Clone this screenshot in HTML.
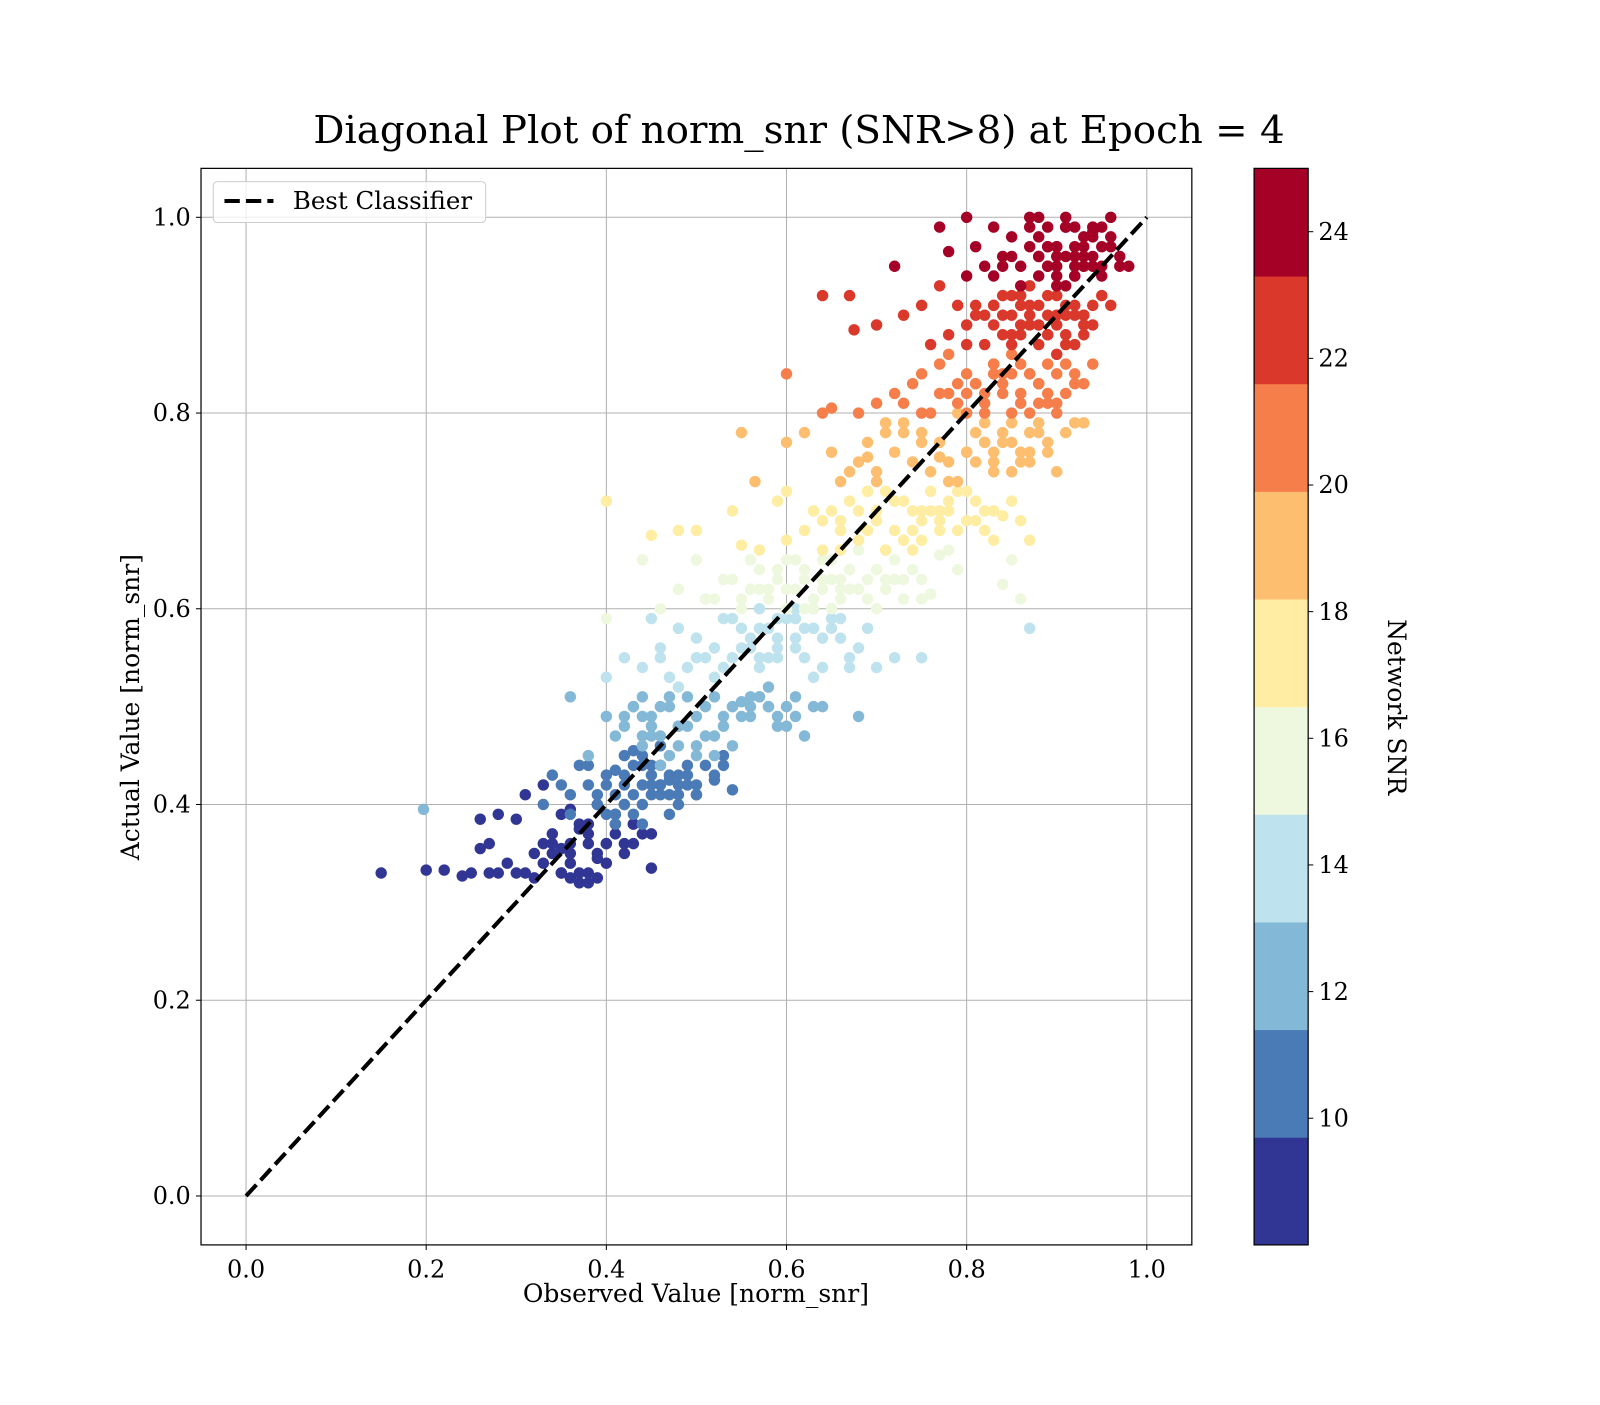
<!DOCTYPE html>
<html><head><meta charset="utf-8"><style>
html,body{margin:0;padding:0;background:#fff}
svg text{font-family:"DejaVu Serif","Liberation Serif",serif;fill:#000}
</style></head><body>
<svg id="chart" width="1600" height="1400" viewBox="0 0 1568 1372" xmlns="http://www.w3.org/2000/svg">
<rect width="1568" height="1372" fill="#fff"/>
<text x="783" y="140" font-size="38" text-anchor="middle">Diagonal Plot of norm_snr (SNR&gt;8) at Epoch = 4</text>
<g id="grid"></g>
<g id="points"></g>
<line id="diag" stroke="#000" stroke-width="4" stroke-dasharray="15,6"/>
<rect x="197" y="165" width="971" height="1055" fill="none" stroke="#000" stroke-width="1.2"/>
<g id="ticks"></g>
<text x="682" y="1276" font-size="24.5" text-anchor="middle">Observed Value [norm_snr]</text>
<text transform="translate(136,693) rotate(-90)" font-size="24.5" text-anchor="middle">Actual Value [norm_snr]</text>
<g>
<rect x="209" y="178" width="267" height="40" rx="4" fill="#fff" fill-opacity="0.8" stroke="#ccc"/>
<line x1="220" y1="197" x2="268" y2="197" stroke="#000" stroke-width="4" stroke-dasharray="15,6"/>
<text x="287" y="205" font-size="24">Best Classifier</text>
</g>
<g id="cbar"></g>
<text transform="translate(1360,693) rotate(90)" font-size="24.5" text-anchor="middle">Network SNR</text>
</svg>
<script>
const xTicks=[0,0.2,0.4,0.6,0.8,1.0];
const yTicks=[0,0.2,0.4,0.6,0.8,1.0];
const cbTicks=[10,12,14,16,18,20,22,24];
const bandColors=["#313695","#4a7bb7","#83b8d7","#bfe3ee","#eef8df","#feeda2","#fdbe70","#f67e4b","#da382a","#a50026"];
const bandSnr=[9,10.5,12,14,15.5,17,19,20.5,22,24];
const bandObs=[
[.15,.20,.22,.24,.25,.26,.27,.28,.29,.30,.31,.32,.33,.34,.35,.36,.37,.38,.39,.40,.41,.42,.43,.44,.45,.26,.30,.33,.35,.37,.39,.41,.36,.34,.38,.32,.45,.43,.28,.31,
 .35,.36,.37,.38,.39,.40,.34,.36,.38,.40,.42,.35,.37,.39,.33,.41,.43,.36,.38,.27],
[.33,.34,.35,.36,.37,.38,.39,.40,.41,.42,.43,.44,.45,.46,.47,.48,.49,.50,.51,.52,.53,.54,.36,.38,.40,.42,.44,.46,.48,.50,.41,.43,.45,.47,.39,.42,.44,.46,.52,.49,
 .40,.41,.42,.43,.44,.45,.46,.47,.48,.49,.50,.41,.43,.45,.47,.44,.46,.42,.48,.53],
[.197,.36,.38,.40,.41,.42,.43,.44,.45,.46,.47,.48,.49,.50,.51,.52,.53,.54,.55,.56,.57,.58,.59,.60,.61,.62,.63,.68,.44,.46,.48,.50,.52,.54,.56,.58,.60,.42,.45,.47,
 .43,.44,.45,.46,.47,.48,.50,.52,.54,.55,.56,.57,.58,.59,.61,.44,.49,.51,.53,.64],
[.40,.42,.44,.45,.46,.47,.48,.49,.50,.51,.52,.53,.54,.55,.56,.57,.58,.59,.60,.61,.62,.63,.64,.65,.66,.67,.68,.69,.70,.72,.75,.87,.55,.57,.59,.61,.63,.65,.67,.53,
 .56,.57,.58,.59,.60,.61,.62,.63,.64,.66,.54,.52,.50,.48,.46,.57,.59,.61,.63,.65],
[.40,.44,.46,.48,.50,.52,.54,.55,.56,.57,.58,.59,.60,.61,.62,.63,.64,.65,.66,.67,.68,.69,.70,.71,.72,.73,.74,.75,.76,.77,.79,.84,.85,.86,.60,.62,.64,.66,.68,.70,.58,.56,.72,.65,.67,
 .60,.62,.64,.66,.68,.70,.59,.61,.63,.65,.67,.69,.71,.57,.55,.53,.51,.73,.75,.78],
[.40,.45,.48,.50,.54,.55,.57,.59,.60,.62,.64,.65,.66,.67,.68,.69,.70,.71,.72,.73,.74,.75,.76,.77,.78,.79,.80,.81,.82,.83,.84,.86,.87,.63,.69,.71,.75,.77,.66,.60,
 .70,.72,.74,.76,.78,.80,.82,.71,.73,.75,.77,.79,.81,.68,.66,.64,.83,.85,.69,.74],
[.55,.565,.60,.62,.65,.66,.67,.68,.69,.70,.71,.72,.73,.74,.75,.76,.77,.78,.79,.80,.81,.82,.83,.84,.85,.86,.87,.88,.89,.90,.92,.93,.70,.78,.82,
 .80,.81,.82,.83,.84,.85,.86,.87,.88,.79,.77,.75,.73,.71,.69,.83,.85,.87,.89,.91],
[.60,.64,.65,.68,.70,.72,.73,.74,.75,.76,.77,.78,.79,.80,.81,.82,.83,.84,.85,.86,.87,.88,.89,.90,.91,.92,.93,.94,.78,.80,.82,.84,.86,.88,.90,
 .80,.81,.82,.83,.84,.85,.86,.87,.88,.89,.90,.91,.79,.77,.75,.83,.85,.87,.89,.92],
[.64,.675,.67,.70,.73,.75,.76,.77,.78,.79,.80,.81,.82,.83,.84,.85,.86,.87,.88,.89,.90,.91,.92,.93,.94,.96,.80,.82,.84,.86,.88,.90,.92,.85,.87,.89,.91,.81,.83,.93,
 .84,.85,.86,.87,.88,.89,.90,.91,.92,.93,.94,.95,.83,.85,.87,.89,.91,.93,.86,.90],
[.72,.77,.78,.80,.81,.82,.83,.84,.85,.86,.87,.88,.89,.90,.91,.92,.93,.94,.95,.96,.97,.98,.80,.83,.85,.87,.88,.89,.90,.91,.92,.93,.94,.86,.88,.90,.92,.94,.96,.84,.89,.91,.93,.87,.95,
 .88,.89,.90,.91,.92,.93,.94,.95,.89,.91,.93,.95,.90,.92,.94,.96,.88,.90,.92,.97]
];
const bandAct=[
[.33,.333,.333,.327,.33,.355,.36,.33,.34,.33,.33,.35,.34,.37,.33,.325,.33,.38,.35,.36,.37,.35,.38,.37,.335,.385,.385,.42,.39,.38,.40,.39,.36,.35,.32,.325,.37,.38,.39,.41,
 .33,.34,.32,.33,.345,.36,.36,.35,.37,.34,.36,.355,.375,.325,.36,.38,.36,.395,.36,.33],
[.40,.43,.42,.41,.44,.42,.40,.43,.41,.42,.39,.44,.43,.42,.41,.43,.42,.41,.44,.43,.45,.415,.39,.44,.39,.40,.45,.41,.40,.42,.435,.455,.41,.425,.41,.40,.42,.44,.425,.43,
 .42,.38,.43,.41,.40,.44,.42,.39,.42,.44,.41,.39,.44,.42,.43,.38,.46,.45,.41,.44],
[.395,.51,.45,.49,.47,.48,.50,.49,.48,.47,.50,.46,.51,.49,.50,.45,.48,.50,.49,.50,.51,.50,.49,.48,.51,.47,.50,.49,.46,.44,.48,.45,.47,.46,.51,.52,.50,.49,.47,.45,
 .50,.51,.49,.50,.51,.48,.46,.51,.50,.505,.49,.51,.50,.48,.49,.47,.48,.47,.49,.50],
[.53,.55,.54,.59,.56,.53,.58,.54,.57,.55,.56,.54,.59,.56,.57,.55,.58,.56,.59,.57,.55,.58,.54,.59,.57,.55,.56,.58,.54,.55,.55,.58,.58,.60,.55,.59,.53,.60,.54,.59,
 .56,.58,.55,.57,.59,.56,.58,.60,.57,.59,.55,.53,.55,.52,.55,.54,.59,.60,.58,.58],
[.59,.65,.60,.62,.65,.61,.63,.60,.62,.64,.61,.63,.60,.62,.64,.61,.63,.65,.61,.64,.62,.63,.60,.62,.65,.61,.64,.63,.615,.655,.64,.625,.65,.61,.65,.60,.65,.62,.66,.64,.62,.65,.63,.60,.62,
 .62,.63,.62,.63,.62,.64,.64,.65,.60,.63,.64,.61,.63,.62,.61,.63,.61,.63,.61,.66],
[.71,.675,.68,.68,.70,.665,.66,.71,.72,.68,.66,.70,.69,.71,.67,.72,.69,.66,.68,.71,.70,.67,.72,.69,.70,.68,.72,.71,.68,.70,.695,.69,.67,.70,.68,.72,.69,.70,.66,.67,
 .70,.71,.68,.70,.71,.69,.70,.66,.67,.70,.68,.72,.69,.70,.68,.69,.67,.71,.72,.66],
[.78,.73,.77,.78,.76,.73,.74,.75,.77,.74,.78,.76,.79,.75,.78,.74,.77,.75,.80,.76,.78,.79,.75,.77,.74,.76,.78,.79,.77,.74,.79,.79,.73,.73,.77,
 .76,.75,.77,.76,.78,.77,.75,.76,.78,.73,.755,.77,.78,.79,.755,.74,.79,.75,.76,.78],
[.84,.80,.805,.80,.81,.82,.81,.83,.84,.80,.85,.82,.81,.84,.83,.80,.85,.82,.86,.81,.84,.83,.85,.80,.82,.83,.83,.85,.86,.80,.82,.84,.85,.81,.81,
 .82,.83,.81,.84,.83,.80,.82,.84,.83,.81,.84,.85,.83,.82,.80,.85,.84,.80,.82,.84],
[.92,.885,.92,.89,.90,.91,.87,.93,.88,.91,.89,.90,.87,.91,.88,.92,.89,.91,.87,.90,.92,.88,.91,.89,.91,.91,.87,.90,.92,.88,.91,.89,.87,.90,.93,.88,.90,.91,.89,.90,
 .90,.88,.91,.90,.89,.92,.90,.91,.90,.88,.89,.92,.91,.87,.89,.88,.87,.90,.92,.86],
[.95,.99,.965,.94,.97,.95,.99,.96,.98,.95,.97,1.0,.95,.97,.99,.94,.96,.98,.95,.97,.96,.95,1.0,.94,.96,.99,.94,.97,.95,.99,.96,.95,.985,.93,.96,.94,.97,.99,1.0,.95,.97,.93,.95,1.0,.97,
 .96,.95,.97,.96,.95,.97,.96,.94,.99,1.0,.98,.99,.93,.94,.95,.98,.98,.96,.99,.95]
];
const NS="http://www.w3.org/2000/svg";
const X0=197,X1=1168,Y0=1220,Y1=165,XMIN=-0.05,XMAX=1.05,YMIN=-0.05,YMAX=1.05;
const CMIN=8,CMAX=25;
function sx(v){return X0+(v-XMIN)/(XMAX-XMIN)*(X1-X0);}
function sy(v){return Y0-(v-YMIN)/(YMAX-YMIN)*(Y0-Y1);}
function cy(v){return Y0-(v-CMIN)/(CMAX-CMIN)*(Y0-Y1);}
function colorFor(s){let i=Math.floor((s-CMIN)/(CMAX-CMIN)*bandColors.length);return bandColors[Math.max(0,Math.min(bandColors.length-1,i))];}
function mk(tag,attrs,parent){const e=document.createElementNS(NS,tag);for(const k in attrs)e.setAttribute(k,attrs[k]);parent.appendChild(e);return e;}
const grid=document.getElementById('grid'),ticks=document.getElementById('ticks');
xTicks.forEach(t=>{
 const l=mk('line',{x1:sx(t),x2:sx(t),y1:Y1,y2:Y0,stroke:'#b0b0b0','stroke-width':1},grid);
 
 
 mk('line',{x1:sx(t),x2:sx(t),y1:Y0,y2:Y0+5,stroke:'#000'},ticks);
 const tx=mk('text',{x:sx(t),y:Y0+32,'font-size':23.5,'text-anchor':'middle'},ticks);
 tx.textContent=t.toFixed(1);
 
 
});
yTicks.forEach(t=>{
 const l=mk('line',{x1:X0,x2:X1,y1:sy(t),y2:sy(t),stroke:'#b0b0b0','stroke-width':1},grid);
 
 
 mk('line',{x1:X0-5,x2:X0,y1:sy(t),y2:sy(t),stroke:'#000'},ticks);
 const tx=mk('text',{x:X0-10,y:sy(t)+8,'font-size':23.5,'text-anchor':'end'},ticks);
 tx.textContent=t.toFixed(1);
 
 
});
const pts=document.getElementById('points');
bandSnr.forEach((s,b)=>{
 const n=Math.min(bandObs[b].length,bandAct[b].length);
 for(let i=0;i<n;i++){
  const c=mk('circle',{cx:sx(bandObs[b][i]),cy:sy(bandAct[b][i]),r:5.6,fill:colorFor(s)},pts);
  
  
 }
});
const d=document.getElementById('diag');
d.setAttribute('x1',sx(0));d.setAttribute('y1',sy(0));d.setAttribute('x2',sx(1));d.setAttribute('y2',sy(1));
const cb=document.getElementById('cbar');
bandColors.forEach((c,i)=>{
 const v0=CMIN+i*(CMAX-CMIN)/bandColors.length,v1=CMIN+(i+1)*(CMAX-CMIN)/bandColors.length;
 const r=mk('rect',{x:1229,y:cy(v1),width:53,height:cy(v0)-cy(v1)+0.5,fill:c},cb);
 
 
});
mk('rect',{x:1229,y:Y1,width:53,height:Y0-Y1,fill:'none',stroke:'#000','stroke-width':1.2},cb);
cbTicks.forEach(t=>{
 mk('line',{x1:1282,x2:1287,y1:cy(t),y2:cy(t),stroke:'#000'},cb);
 const tx=mk('text',{x:1292,y:cy(t)+8,'font-size':23.5},cb);
 tx.textContent=t;
 
 
});
</script>
</body></html>
